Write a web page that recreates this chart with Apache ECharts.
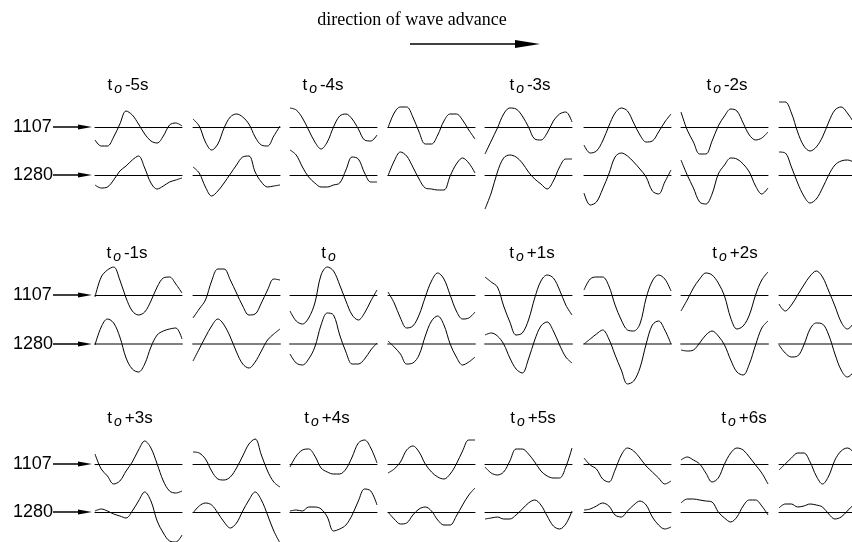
<!DOCTYPE html>
<html>
<head>
    <meta charset="utf-8">
    <title>Wave advance</title>
    <script src="https://cdn.jsdelivr.net/npm/echarts@6/dist/echarts.min.js"></script>
    <style>
        html, body { margin: 0; padding: 0; background: #fff; }
    </style>
</head>
<body>
    <div id="main" style="width: 852px;height:542px;"></div>
    <script type="text/javascript">
        // stations and the time offset of each pair of panels
        var stations = ['1107', '1280'];
        var timeSuffix = ['-5s', '-4s', '-3s', '-2s', '-1s', '', '+1s', '+2s', '+3s', '+4s', '+5s', '+6s'];

        // traces, 15 samples per panel, amplitude (up = positive)
        var row1_1107 = [
            [-13, -19, -19, -10, 3, 16, 12, 3, -7, -14, -16, -9, 2, 4, 1],
            [8, 1, -15, -23, -17, -1, 10, 13, 10, 3, -10, -18, -19, -9, 1],
            [19, 17, 9, -3, -15, -22, -15, 0, 11, 13, 8, -2, -13, -14, -8],
            [-1, 14, 20, 20, 10, -5, -17, -17, -8, 6, 13, 13, 7, -3, -12],
            [-27, -14, -1, 13, 19, 18, 11, 0, -12, -13, -6, 6, 13, 15, 5],
            [-18, -26, -24, -14, 1, 14, 19, 16, 4, -8, -15, -14, -5, 5, 13],
            [15, -3, -15, -27, -27, -14, 1, 11, 18, 16, 4, -8, -13, -11, -5],
            [25, 25, 14, -5, -19, -24, -20, -10, 5, 17, 20, 14, 5, -3, -10]
        ];
        var row1_1280 = [
            [-10, -13, -12, -5, 4, 9, 15, 19, 7, -8, -14, -11, -7, -5, -3],
            [8, 2, -12, -21, -16, -8, 1, 10, 18, 19, 3, -7, -12, -11, -10],
            [25, 20, 8, -2, -8, -12, -12, -10, -8, 5, 18, 16, 2, -7, -7],
            [-1, 14, 23, 19, 8, -4, -13, -14, -15, -15, -1, 11, 17, 12, 2],
            [-34, -18, 3, 17, 20, 18, 12, 3, -4, -9, -14, -6, 8, 16, 16],
            [-18, -30, -27, -14, 1, 18, 22, 19, 13, 6, -2, -16, -19, -7, 5],
            [15, 0, -13, -27, -29, -19, 1, 10, 17, 16, 11, 3, -11, -19, -13],
            [23, 22, 8, -8, -21, -28, -24, -13, 0, 10, 14, 15, 13, 10, 5]
        ];
        var row2_1107 = [
            [-2, 18, 25, 28, 15, -3, -16, -20, -17, -6, 8, 17, 18, 11, 2],
            [-23, -14, -5, 14, 26, 26, 15, 2, -11, -20, -19, -8, 5, 16, 15],
            [-16, -26, -29, -23, -8, 20, 28, 24, 10, -6, -20, -25, -18, -6, 5],
            [3, -8, -23, -33, -31, -20, -2, 14, 22, 16, 0, -16, -24, -23, -17],
            [18, 13, 8, -11, -27, -40, -38, -25, -3, 14, 20, 17, 5, -10, -20],
            [5, 16, 18, 18, 9, -10, -25, -35, -36, -29, -3, 14, 20, 16, 4],
            [-16, -5, 7, 16, 22, 20, 12, -1, -23, -34, -31, -20, 0, 15, 23],
            [-9, -16, -10, 0, 10, 19, 24, 18, 4, -11, -27, -34, -28, -16, -3]
        ];
        var row2_1280 = [
            [-1, 17, 25, 21, 7, -14, -25, -28, -20, -3, 9, 13, 15, 16, 5],
            [-17, -5, 7, 18, 25, 19, 7, -8, -20, -24, -18, -7, 4, 10, 15],
            [-10, -19, -21, -15, -3, 19, 31, 29, 9, -8, -20, -20, -15, -6, 1],
            [3, -3, -10, -20, -19, -11, 8, 23, 28, 19, 0, -13, -21, -18, -13],
            [9, 11, 8, 0, -14, -25, -29, -15, 4, 18, 22, 13, -1, -13, -19],
            [0, 5, 10, 14, 5, -11, -26, -40, -37, -24, 0, 19, 23, 14, 0],
            [-6, -7, -6, 1, 9, 13, 8, -1, -16, -28, -31, -20, -1, 16, 23],
            [-1, -9, -13, -12, -1, 15, 21, 20, 9, -10, -26, -33, -28, -18, -6]
        ];
        var row3_1107 = [
            [10, -5, -12, -20, -17, -7, 2, 14, 23, 16, 0, -17, -27, -29, -27],
            [12, 11, 5, -7, -15, -16, -13, -4, 8, 20, 25, 9, -7, -18, -23],
            [-3, 8, 14, 15, 8, -4, -8, -10, -10, -5, 7, 21, 24, 16, 1],
            [-9, -5, 2, 14, 18, 12, 0, -8, -13, -15, -10, 0, 13, 24, 24],
            [-3, -9, -11, -8, 3, 15, 15, 10, 2, -7, -12, -14, -14, -3, 16],
            [6, -1, -5, -15, -18, -6, 9, 16, 13, 6, -2, -8, -14, -20, -17],
            [4, 7, 4, 0, -9, -18, -14, 0, 11, 16, 14, 7, -1, -9, -20],
            [-6, 0, 6, 11, 11, 2, -12, -20, -12, 4, 13, 16, 12, 6, -1]
        ];
        var row3_1280 = [
            [1, 3, 1, -2, -4, -6, 1, 11, 20, 11, -9, -21, -29, -30, -23],
            [-1, 6, 9, 7, -1, -10, -16, -11, 1, 12, 20, 12, -3, -19, -31],
            [1, 2, 1, 5, 5, 3, -5, -19, -17, -13, -3, 11, 23, 21, 7],
            [0, -7, -12, -11, -3, 3, 5, 1, -8, -13, -13, -4, 7, 17, 24],
            [-7, -6, -5, -7, -7, -3, 3, 9, 12, 7, -4, -14, -17, -12, 1],
            [2, 3, 6, 9, 6, -3, -5, 1, 7, 11, 7, -5, -13, -17, -15],
            [9, 13, 13, 12, 11, 10, 0, -6, -10, -5, 6, 12, 12, 6, -3],
            [4, 8, 8, 5, 6, 8, 7, 5, -2, -7, -5, 1, 7, 9, 7]
        ];
        var rows = [[row1_1107, row1_1280], [row2_1107, row2_1280], [row3_1107, row3_1280]];

        // layout
        var panelLeft = [95, 193, 290, 388, 485, 584, 681, 779];
        var panelWidth = 87;
        var rowBase = [[127, 175], [295, 344], [464, 512]];
        var labelX = [[128, 323, 530, 727], [127, 330, 532, 735], [130, 327, 533, 744]];
        var labelY = [85, 253, 418];
        var amp = 45;
        var sansFont = '"Liberation Sans", Arial, sans-serif';

        var grids = [], xAxes = [], yAxes = [], series = [], graphics = [];

        rows.forEach(function (row, r) {
            row.forEach(function (traces, s) {
                var base = rowBase[r][s];
                // row 2, station 1280 has a grey base line in the original
                var grey = (r === 1 && s === 1);
                traces.forEach(function (vals, p) {
                    var idx = grids.length;
                    grids.push({
                        left: panelLeft[p], top: base - amp,
                        width: panelWidth, height: amp * 2,
                        outerBoundsMode: 'none', containLabel: false
                    });
                    xAxes.push({
                        type: 'value', gridIndex: idx, min: 0, max: vals.length - 1,
                        axisLine: { show: true, onZero: true, lineStyle: { color: grey ? '#808080' : '#000', width: grey ? 2 : 1 } },
                        axisTick: { show: false }, axisLabel: { show: false }, splitLine: { show: false }
                    });
                    yAxes.push({
                        type: 'value', gridIndex: idx, min: -amp, max: amp, show: false
                    });
                    series.push({
                        type: 'line', xAxisIndex: idx, yAxisIndex: idx,
                        data: vals.map(function (v, i) { return [i, v]; }),
                        symbol: 'none', smooth: 0.35, silent: true, animation: false,
                        lineStyle: { color: '#000', width: 1 }
                    });
                });
            });
        });

        // station labels with arrows
        rowBase.forEach(function (bases) {
            bases.forEach(function (base, s) {
                graphics.push({
                    type: 'text',
                    style: { x: 13, y: base, text: stations[s], font: '18px ' + sansFont, fill: '#000', textVerticalAlign: 'middle' }
                });
                graphics.push({
                    type: 'line', shape: { x1: 53, y1: base, x2: 82, y2: base },
                    style: { stroke: '#000', lineWidth: 1.5 }
                });
                graphics.push({
                    type: 'polygon', shape: { points: [[92, base], [78, base - 2.5], [78, base + 2.5]] },
                    style: { fill: '#000' }
                });
            });
        });

        // time labels
        labelX.forEach(function (xs, r) {
            xs.forEach(function (x, k) {
                var suf = timeSuffix[r * 4 + k];
                graphics.push({
                    type: 'text',
                    style: {
                        x: x, y: labelY[r], textAlign: 'center', textVerticalAlign: 'middle',
                        text: '{a|t}{b|o}' + (suf ? '{a|' + suf + '}' : ''),
                        rich: {
                            a: { fontSize: 17, fontFamily: sansFont, lineHeight: 22, fill: '#000' },
                            b: { fontSize: 14, fontStyle: 'italic', fontFamily: sansFont, verticalAlign: 'bottom', lineHeight: 14, padding: [0, 3, 0, 2], fill: '#000' }
                        }
                    }
                });
            });
        });

        // title and direction arrow
        graphics.push({
            type: 'text',
            style: { x: 412, y: 20, text: 'direction of wave advance', font: '18px "Liberation Serif", "Times New Roman", serif', fill: '#000', textAlign: 'center', textVerticalAlign: 'middle' }
        });
        graphics.push({
            type: 'line', shape: { x1: 410, y1: 44, x2: 522, y2: 44 },
            style: { stroke: '#000', lineWidth: 1.5 }
        });
        graphics.push({
            type: 'polygon', shape: { points: [[540, 44], [515, 40], [515, 48]] },
            style: { fill: '#000' }
        });

        var myChart = echarts.init(document.getElementById('main'));
        myChart.setOption({
            backgroundColor: '#fff',
            animation: false,
            grid: grids,
            xAxis: xAxes,
            yAxis: yAxes,
            series: series,
            graphic: graphics
        });
    </script>
</body>
</html>
